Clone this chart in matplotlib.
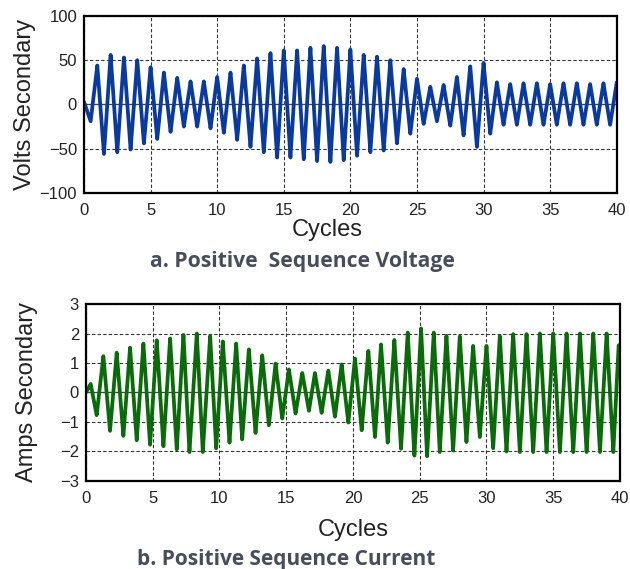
import matplotlib as mpl
mpl.use('Agg')
import numpy as np
import matplotlib.pyplot as plt

# peaks and troughs (cycle, value)
volt_t = [0.0, 0.5, 1.0, 1.5, 2.0, 2.5, 3.0, 3.5, 4.0, 4.5, 5.0, 5.5, 6.0, 6.5, 7.0, 7.5, 8.0, 8.5, 9.0, 9.5,
          10.0, 10.5, 11.0, 11.5, 12.0, 12.5, 13.0, 13.5, 14.0, 14.5, 15.0, 15.5, 16.0, 16.5, 17.0, 17.5, 18.0, 18.5, 19.0, 19.5,
          20.0, 20.5, 21.0, 21.5, 22.0, 22.5, 23.0, 23.5, 24.0, 24.5, 25.0, 25.5, 26.0, 26.5, 27.0, 27.5, 28.0, 28.5, 29.0, 29.5,
          30.0, 30.5, 31.0, 31.5, 32.0, 32.5, 33.0, 33.5, 34.0, 34.5, 35.0, 35.5, 36.0, 36.5, 37.0, 37.5, 38.0, 38.5, 39.0, 39.5, 40.0]
volt_v = [3, -19, 44, -56, 56, -54, 53, -51, 50, -44, 42, -39, 36, -31, 30, -25, 26, -25, 26, -27,
          31, -32, 36, -40, 44, -48, 52, -54, 58, -60, 61, -60, 61, -62, 64, -64, 66, -65, 64, -63,
          62, -58, 56, -54, 54, -52, 50, -44, 40, -33, 29, -22, 20, -19, 22, -24, 31, -35, 43, -48,
          47, -33, 25, -23, 23, -23, 24, -23, 24, -23, 23, -23, 24, -23, 24, -23, 23, -23, 24, -23, 25]

amp_t = [0.0, 0.35, 0.8, 1.3, 1.8, 2.3, 2.8, 3.3, 3.8, 4.3, 4.8, 5.3, 5.8, 6.3, 6.8, 7.3, 7.75, 8.3, 8.75, 9.3, 9.75,
         10.25, 10.75, 11.25, 11.7, 12.2, 12.7, 13.2, 13.7, 14.2, 14.7, 15.2, 15.7, 16.2, 16.7, 17.15, 17.65, 18.15, 18.65,
         19.15, 19.65, 20.15, 20.65, 21.15, 21.65, 22.1, 22.6, 23.1, 23.6, 24.1, 24.6, 25.1, 25.55, 26.05, 26.5, 27.0, 27.5,
         28.0, 28.5, 29.0, 29.5, 30.0, 30.5, 31.0, 31.5, 32.0, 32.5, 33.0, 33.5, 34.0, 34.5, 35.0, 35.5, 36.0, 36.5,
         37.0, 37.5, 38.0, 38.5, 39.0, 39.5, 39.9]
amp_v = [0.0, 0.29, -0.77, 1.23, -1.30, 1.35, -1.47, 1.52, -1.62, 1.66, -1.77, 1.77, -1.82, 1.83, -1.93, 1.95, -2.02, 2.0, -2.02, 1.92, -1.89,
         1.73, -1.70, 1.66, -1.59, 1.46, -1.37, 1.26, -1.11, 0.98, -0.88, 0.78, -0.71, 0.66, -0.62, 0.66, -0.69, 0.74, -0.82,
         0.95, -1.02, 1.15, -1.28, 1.41, -1.51, 1.63, -1.70, 1.78, -1.91, 2.03, -2.14, 2.17, -2.16, 2.03, -2.02, 1.92, -1.97,
         1.90, -1.68, 1.58, -1.51, 1.58, -1.89, 1.92, -2.0, 1.98, -2.02, 1.98, -2.02, 2.0, -2.02, 2.0, -2.02, 2.0, -2.02,
         2.0, -2.02, 2.0, -2.02, 2.0, -2.02, 1.6]


def trace(tk, vk, n=24):
    # smooth half-wave between successive extrema
    s = (1 - np.cos(np.linspace(0, np.pi, n))) / 2
    xs, ys = [], []
    for i in range(len(tk) - 1):
        xs.append(tk[i] + (tk[i+1] - tk[i]) * s)
        ys.append(vk[i] + (vk[i+1] - vk[i]) * s)
    return np.concatenate(xs), np.concatenate(ys)


plt.rcParams['font.family'] = ['Liberation Sans', 'DejaVu Sans']

fig = plt.figure(figsize=(6.3, 5.69), dpi=100)
ax1 = fig.add_axes([0.1333, 0.661, 0.8457, 0.3109])
ax2 = fig.add_axes([0.1365, 0.1547, 0.8476, 0.311])


def style(ax, yticks):
    ax.set_xlim(0, 40)
    ax.set_xticks(range(0, 41, 5))
    ax.set_ylim(yticks[0], yticks[-1])
    ax.set_yticks(yticks)
    ax.tick_params(length=0, labelsize=12, colors='#222222')
    ax.tick_params(axis='x', pad=7)
    ax.tick_params(axis='y', pad=5)
    ax.grid(True, color='#333333', linestyle=(0, (3, 2)), linewidth=0.8)
    ax.axhline(0, color='#444444', linewidth=0.9, zorder=1)
    for sp in ax.spines.values():
        sp.set_linewidth(1.6)
        sp.set_color('black')
        sp.set_zorder(5)
    ax.set_axisbelow(True)


style(ax1, [-100, -50, 0, 50, 100])
x, y = trace(volt_t, volt_v)
ax1.plot(x, y, color='#0b3a9e', linewidth=2.7, zorder=3, solid_joinstyle='round', solid_capstyle='round')
ax1.set_ylabel('Volts Secondary', fontsize=17, color='#222222', va='center')
ax1.yaxis.set_label_coords(-0.111, 0.5)
ax1.set_xlabel('Cycles', fontsize=17, va='center', color='#222222')
ax1.xaxis.set_label_coords(0.456, -0.21)

style(ax2, [-3, -2, -1, 0, 1, 2, 3])
x, y = trace(amp_t, amp_v)
ax2.plot(x, y, color='#0b6b0b', linewidth=2.7, zorder=3, solid_joinstyle='round', solid_capstyle='round')
ax2.set_ylabel('Amps Secondary', fontsize=17, color='#222222', va='center')
ax2.yaxis.set_label_coords(-0.110, 0.5)
ax2.set_xlabel('Cycles', fontsize=17, va='center', color='#222222')
ax2.xaxis.set_label_coords(0.5, -0.275)

fig.text(302.5 / 630, 1 - 262 / 569, 'a. Positive  Sequence Voltage', ha='center', va='center',
         fontsize=15.2, fontweight='bold', family='Open Sans', color='#474d5c')
fig.text(286.5 / 630, 1 - 560 / 569, 'b. Positive Sequence Current', ha='center', va='center',
         fontsize=15, fontweight='bold', family='Open Sans', color='#474d5c')

plt.savefig('out.png', dpi=100)
plt.close()
